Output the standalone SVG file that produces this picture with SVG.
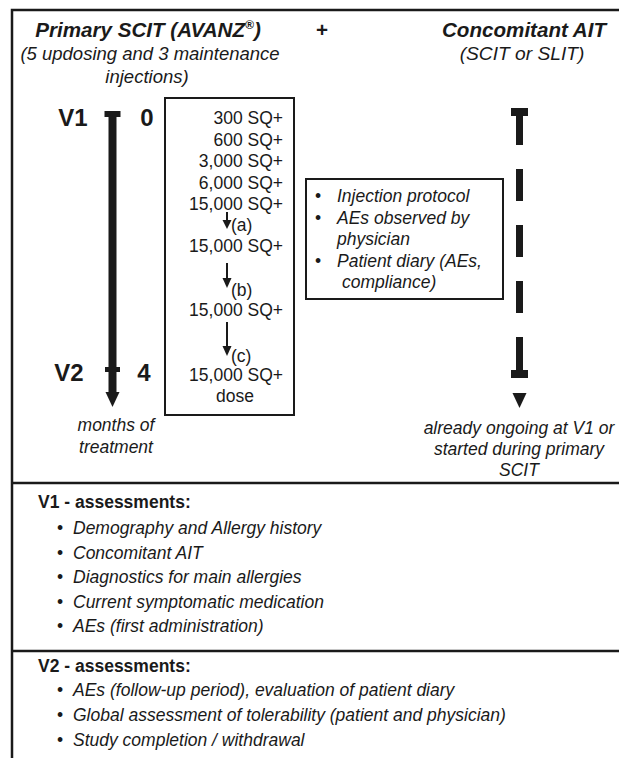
<svg xmlns="http://www.w3.org/2000/svg" width="619" height="758" viewBox="0 0 619 758">
<style>
text{font-family:"Liberation Sans",Arial,sans-serif;fill:#1a1a1a;}
.t{font-size:20.6px;font-weight:bold;font-style:italic;}
.s{font-size:18.5px;font-style:italic;}
.v{font-size:24px;font-weight:bold;}
.d{font-size:17.5px;}
.i{font-size:17.5px;font-style:italic;}
.h{font-size:17.5px;font-weight:bold;}
.b{font-size:17.5px;}
.frame{fill:none;stroke:#1a1a1a;stroke-width:2.5;}
.box{fill:#fff;stroke:#1a1a1a;stroke-width:2;}
.bar{fill:#1a1a1a;}
.thin{stroke:#1a1a1a;stroke-width:2;fill:none;}
</style>
<rect width="619" height="758" fill="#fff"/>
<g id="frame">
<path class="frame" d="M12,758 V10 H619"/>
<path class="frame" d="M12,483 H619 M12,651 H619"/>
</g>
<g id="header-primary">
<text class="t" x="148" y="37" text-anchor="middle">Primary SCIT (AVANZ<tspan font-size="12" dy="-8">®</tspan><tspan dy="8">)</tspan></text>
<text class="s" x="150" y="60" text-anchor="middle">(5 updosing and 3 maintenance</text>
<text class="s" x="147" y="83" text-anchor="middle">injections)</text>
</g>
<g id="plus"><text class="t" x="322" y="37" text-anchor="middle" style="font-style:normal">+</text></g>
<g id="header-concomitant">
<text class="t" x="524" y="37" text-anchor="middle">Concomitant AIT</text>
<text class="s" x="522" y="60" text-anchor="middle" style="font-size:19.2px">(SCIT or SLIT)</text>
</g>
<g id="timeline-labels">
<text class="v" x="73" y="126" text-anchor="middle">V1</text>
<text class="v" x="147" y="126" text-anchor="middle">0</text>
<text class="v" x="69" y="381" text-anchor="middle">V2</text>
<text class="v" x="144" y="381" text-anchor="middle">4</text>
<text class="i" x="116" y="431" text-anchor="middle">months of</text>
<text class="i" x="116" y="453" text-anchor="middle">treatment</text>
</g>
<g id="dose-box">
<rect class="box" x="165" y="98" width="129" height="317"/>
<text class="d" x="283" y="124" text-anchor="end">300 SQ+</text>
<text class="d" x="283" y="145.5" text-anchor="end">600 SQ+</text>
<text class="d" x="283" y="167" text-anchor="end">3,000 SQ+</text>
<text class="d" x="283" y="188.5" text-anchor="end">6,000 SQ+</text>
<text class="d" x="283" y="210" text-anchor="end">15,000 SQ+</text>
<text class="d" x="283" y="252" text-anchor="end">15,000 SQ+</text>
<text class="d" x="283" y="316" text-anchor="end">15,000 SQ+</text>
<text class="d" x="283" y="381" text-anchor="end">15,000 SQ+</text>
<text class="d" x="235" y="402" text-anchor="middle">dose</text>
<text class="d" x="231" y="231">(a)</text>
<text class="d" x="231" y="296">(b)</text>
<text class="d" x="231" y="362">(c)</text>
</g>
<g id="info-box">
<rect class="box" x="306" y="179" width="197" height="120"/>
<text class="b" x="318" y="202" text-anchor="middle">•</text>
<text class="i" x="337" y="202">Injection protocol</text>
<text class="b" x="318" y="223.5" text-anchor="middle">•</text>
<text class="i" x="337" y="223.5">AEs observed by</text>
<text class="i" x="337" y="245">physician</text>
<text class="b" x="318" y="266.5" text-anchor="middle">•</text>
<text class="i" x="337" y="266.5">Patient diary (AEs,</text>
<text class="i" x="342" y="288">compliance)</text>
</g>
<g id="concomitant-note">
<text class="i" x="519" y="434" text-anchor="middle">already ongoing at V1 or</text>
<text class="i" x="519" y="455" text-anchor="middle">started during primary</text>
<text class="i" x="519" y="476" text-anchor="middle">SCIT</text>
</g>
<g id="connectors">
<rect class="bar" x="108.5" y="112" width="8" height="282"/>
<rect class="bar" x="104.5" y="111" width="16" height="6"/>
<rect class="bar" x="105" y="367" width="15" height="5"/>
<polygon class="bar" points="105.5,392 119.5,392 112.5,407"/>
<rect class="bar" x="511" y="108" width="17" height="8"/>
<rect class="bar" x="516" y="113" width="7" height="32"/>
<rect class="bar" x="516" y="169" width="7" height="32"/>
<rect class="bar" x="516" y="225" width="7" height="32"/>
<rect class="bar" x="516" y="281" width="7" height="32"/>
<rect class="bar" x="516" y="337" width="7" height="35"/>
<rect class="bar" x="511" y="370" width="17" height="8"/>
<polygon class="bar" points="512.5,393 526.5,393 519.5,408"/>
<path class="thin" d="M227,212 V222"/>
<polygon class="bar" points="222.5,220 231.5,220 227,229"/>
<path class="thin" d="M227,263 V280"/>
<polygon class="bar" points="222.5,278 231.5,278 227,288"/>
<path class="thin" d="M227,322 V349"/>
<polygon class="bar" points="222.5,346 231.5,346 227,356"/>
</g>
<g id="v1-assessments">
<text class="h" x="38" y="508">V1 - assessments:</text>
<text class="b" x="60" y="534" text-anchor="middle">•</text><text class="i" x="73" y="534">Demography and Allergy history</text>
<text class="b" x="60" y="558.5" text-anchor="middle">•</text><text class="i" x="73" y="558.5">Concomitant AIT</text>
<text class="b" x="60" y="583" text-anchor="middle">•</text><text class="i" x="73" y="583">Diagnostics for main allergies</text>
<text class="b" x="60" y="607.5" text-anchor="middle">•</text><text class="i" x="73" y="607.5">Current symptomatic medication</text>
<text class="b" x="60" y="632" text-anchor="middle">•</text><text class="i" x="73" y="632">AEs (first administration)</text>
</g>
<g id="v2-assessments">
<text class="h" x="38" y="672">V2 - assessments:</text>
<text class="b" x="60" y="696" text-anchor="middle">•</text><text class="i" x="73" y="696">AEs (follow-up period), evaluation of patient diary</text>
<text class="b" x="60" y="721" text-anchor="middle">•</text><text class="i" x="73" y="721">Global assessment of tolerability (patient and physician)</text>
<text class="b" x="60" y="746" text-anchor="middle">•</text><text class="i" x="73" y="746">Study completion / withdrawal</text>
</g>
</svg>
